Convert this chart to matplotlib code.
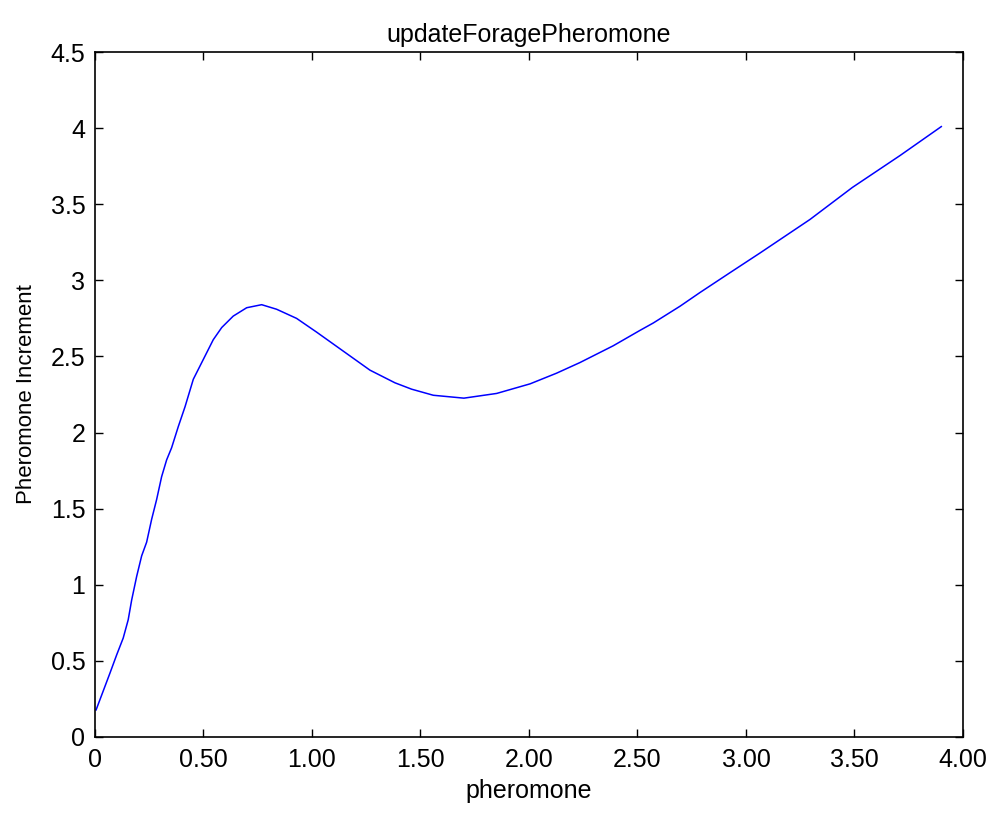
import matplotlib.pyplot as plt

# values
pheromone = [0.005, 0.069, 0.10, 0.13, 0.153, 0.169, 0.192, 0.215, 0.238, 0.261,
             0.284, 0.307, 0.33, 0.353, 0.384, 0.415, 0.453, 0.499, 0.545, 0.584,
             0.637, 0.699, 0.768, 0.837, 0.929, 1.021, 1.144, 1.267, 1.382, 1.459,
             1.559, 1.70, 1.851, 2.005, 2.127, 2.235, 2.388, 2.51, 2.573, 2.696,
             2.788, 2.926, 3.065, 3.295, 3.49, 3.71, 3.90]
increment = [0.178, 0.42, 0.54, 0.65, 0.77, 0.90, 1.055, 1.19, 1.28, 1.43,
             1.56, 1.71, 1.82, 1.90, 2.04, 2.17, 2.35, 2.48, 2.61, 2.69,
             2.765, 2.82, 2.84, 2.81, 2.75, 2.66, 2.535, 2.41, 2.327, 2.285,
             2.245, 2.226, 2.257, 2.32, 2.39, 2.46, 2.57, 2.67, 2.72, 2.83,
             2.92, 3.05, 3.18, 3.40, 3.61, 3.82, 4.01]

xticks = [0, 0.5, 1.0, 1.5, 2.0, 2.5, 3.0, 3.5, 4.0]
xtick_labels = ['0', '0.50', '1.00', '1.50', '2.00', '2.50', '3.00', '3.50', '4.00']
yticks = [0, 0.5, 1, 1.5, 2, 2.5, 3, 3.5, 4, 4.5]
ytick_labels = ['0', '0.5', '1', '1.5', '2', '2.5', '3', '3.5', '4', '4.5']

plt.rcParams['font.family'] = ['Liberation Sans', 'DejaVu Sans']

fig = plt.figure(figsize=(9.95, 8.14), dpi=100)
ax = fig.add_axes((95 / 995, 1 - 737 / 814, 868 / 995, 685 / 814))

ax.plot(pheromone, increment, color='#0000ff', linewidth=1.1)

ax.set_xlim(0, 4)
ax.set_ylim(0, 4.5)
ax.set_xticks(xticks)
ax.set_xticklabels(xtick_labels)
ax.set_yticks(yticks)
ax.set_yticklabels(ytick_labels)
ax.tick_params(direction='in', length=6, width=1, top=True, right=True,
               labelsize=18)
ax.tick_params(axis='x', pad=8)
ax.tick_params(axis='y', pad=7)
for s in ax.spines.values():
    s.set_linewidth(1.2)

ax.set_title('updateForagePheromone', fontsize=18, pad=7)
ax.set_xlabel('pheromone', fontsize=18, labelpad=5)
ax.set_ylabel('Pheromone Increment', fontsize=16, labelpad=10)

fig.savefig('out.png', dpi=100)
